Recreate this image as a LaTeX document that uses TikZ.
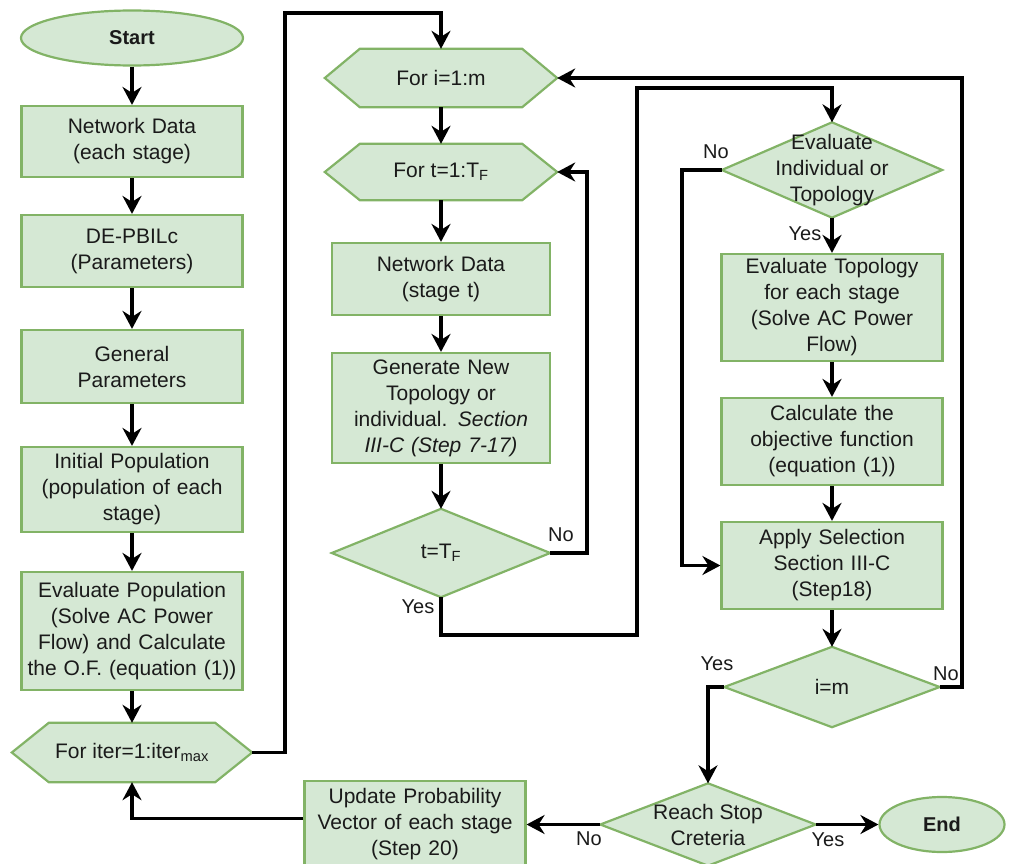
\documentclass[tikz,border=0pt]{standalone}
\usepackage{fontspec}
\setmainfont{Liberation Sans}
\usetikzlibrary{shapes.geometric,arrows.meta,backgrounds}
\definecolor{gfill}{HTML}{D5E8D4}
\definecolor{gline}{HTML}{82B366}
\definecolor{txt}{HTML}{1A1A1A}
\tikzset{
  base/.style={font=\fontsize{21}{26}\selectfont, text=txt, align=center, inner sep=1pt},
  procbox/.style={base, rectangle, draw=gline, fill=gfill, line width=2.2pt, minimum width=221pt, text width=215pt},
  ghost/.style={base, rectangle, draw=none, fill=none},
  termnode/.style={base, ellipse, draw=gline, fill=gfill, line width=2.2pt, font=\fontsize{20}{24}\selectfont\bfseries},
  shapefill/.style={draw=gline, fill=gfill, line width=2.2pt, line join=miter},
  conn/.style={line width=3.3pt, draw=black, -{Stealth[length=18pt,width=19pt,inset=6pt]}},
  lbl/.style={font=\fontsize{20}{24}\selectfont, text=txt, inner sep=0pt}
}
\newcommand\myhex[2]{\path[shapefill] (#1.west) -- ([xshift=#2]#1.north west) -- ([xshift=-#2]#1.north east) -- (#1.east) -- ([xshift=-#2]#1.south east) -- ([xshift=#2]#1.south west) -- cycle;}
\newcommand\mydiam[1]{\path[shapefill] (#1.north) -- (#1.east) -- (#1.south) -- (#1.west) -- cycle;}
\begin{document}
\begin{tikzpicture}[x=1pt,y=-1pt]
\useasboundingbox (0,0) rectangle (1009,864);
% left column
\node[termnode, minimum width=222pt, minimum height=55pt] (start) at (132,38) {Start};
\node[procbox, minimum height=71pt] (nd1) at (132,141.5) {Network Data\\(each stage)};
\node[procbox, minimum height=72pt] (depb) at (132,251) {DE-PBILc\\(Parameters)};
\node[procbox, minimum height=73pt] (genp) at (132,366.5) {General\\Parameters};
\node[procbox, minimum height=85pt] (initp) at (132,489.5) {Initial Population\\(population of each\\stage)};
\node[procbox, minimum height=118pt] (evalp) at (132,631) {Evaluate Population\\(Solve AC Power\\Flow) and Calculate\\the O.F. (equation (1))};
\node[ghost, minimum width=240pt, minimum height=59pt] (iter) at (132,752.5) {For iter=1:iter\textsubscript{max}};
% middle column
\node[ghost, minimum width=232pt, minimum height=58pt] (fori) at (441,78) {For i=1:m};
\node[ghost, minimum width=232pt, minimum height=56pt] (fort) at (441,172) {For t=1:T\textsubscript{F}};
\node[procbox, minimum width=218pt, text width=212pt, minimum height=72pt] (nd2) at (441,279) {Network Data\\(stage t)};
\node[procbox, minimum width=218pt, text width=212pt, minimum height=110pt] (gen) at (441,408) {Generate New\\Topology or\\individual. \textit{Section}\\\textit{III-C (Step 7-17)}};
\node[ghost, minimum width=218pt, minimum height=88pt] (ttf) at (441,553) {t=T\textsubscript{F}};
% right column
\node[ghost, minimum width=220pt, minimum height=95pt] (evdiam) at (832,170) {Evaluate\\Individual or\\Topology};
\node[procbox, minimum height=107pt] (evtop) at (832,307.5) {Evaluate Topology\\for each stage\\(Solve AC Power\\Flow)};
\node[procbox, minimum height=87pt] (calc) at (832,441.5) {Calculate the\\objective function\\(equation (1))};
\node[procbox, minimum height=87pt] (apply) at (832,565.5) {Apply Selection\\Section III-C\\(Step18)};
\node[ghost, minimum width=215pt, minimum height=80pt] (im) at (832,687) {i=m};
% bottom row
\node[ghost, minimum width=215pt, minimum height=82pt] (reach) at (708,824.5) {Reach Stop\\Creteria};
\node[termnode, minimum width=125pt, minimum height=55pt] (endn) at (942,824.5) {End};
\node[procbox, minimum height=87pt] (upd) at (415,824.5) {Update Probability\\Vector of each stage\\(Step 20)};
\begin{scope}[on background layer]
\myhex{iter}{37pt}
\myhex{fori}{35pt}
\myhex{fort}{35pt}
\mydiam{ttf}
\mydiam{evdiam}
\mydiam{im}
\mydiam{reach}
\end{scope}
% connectors
\draw[conn] (start.south) -- (nd1.north);
\draw[conn] (nd1.south) -- (depb.north);
\draw[conn] (depb.south) -- (genp.north);
\draw[conn] (genp.south) -- (initp.north);
\draw[conn] (initp.south) -- (evalp.north);
\draw[conn] (evalp.south) -- (iter.north);
\coordinate (c1) at (285,13);
\draw[conn] (iter.east) -| (c1) -| (fori.north);
\draw[conn] (fori.south) -- (fort.north);
\draw[conn] (fort.south) -- (nd2.north);
\draw[conn] (nd2.south) -- (gen.north);
\draw[conn] (gen.south) -- (ttf.north);
\coordinate (c2) at (587,553);
\draw[conn] (ttf.east) -- (c2) |- (fort.east);
\coordinate (c3) at (637,635);
\coordinate (c4) at (637,88);
\draw[conn] (ttf.south) |- (c3) -- (c4) -| (evdiam.north);
\coordinate (c5) at (682,170);
\draw[conn] (evdiam.west) -- (c5) |- (apply.west);
\draw[conn] (evdiam.south) -- (evtop.north);
\draw[conn] (evtop.south) -- (calc.north);
\draw[conn] (calc.south) -- (apply.north);
\draw[conn] (apply.south) -- (im.north);
\coordinate (c6) at (962,687);
\draw[conn] (im.east) -- (c6) |- (fori.east);
\draw[conn] (im.west) -| (reach.north);
\draw[conn] (reach.west) -- (upd.east);
\draw[conn] (reach.east) -- (endn.west);
\draw[conn] ([yshift=6pt]upd.west) -| (iter.south);
% labels
\node[lbl] (l1) at (561,535) {No};
\node[lbl] (l2) at (418,607) {Yes};
\node[lbl] (l3) at (716,152) {No};
\node[lbl] (l4) at (805,234) {Yes};
\node[lbl] (l5) at (717,664) {Yes};
\node[lbl] (l6) at (946,674) {No};
\node[lbl] (l7) at (589,839) {No};
\node[lbl] (l8) at (828,840) {Yes};
\end{tikzpicture}
\end{document}
